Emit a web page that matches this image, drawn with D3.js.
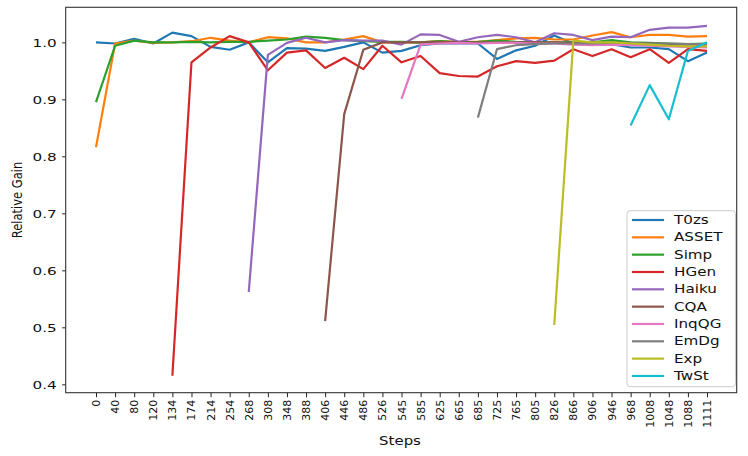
<!DOCTYPE html>
<html>
<head>
<meta charset="utf-8">
<script src="https://cdn.jsdelivr.net/npm/d3@7"></script>
<style>
  body { margin: 0; background: #fff; }
  text { font-family: "DejaVu Sans", sans-serif; fill: #111; }
</style>
</head>
<body>
<svg id="chart" width="748" height="456"></svg>
<script>
// step labels along the x axis (categorical)
const steps = [0, 40, 80, 120, 134, 174, 214, 254, 268, 308, 348, 388, 406, 446, 486, 526, 545,
  585, 625, 665, 685, 725, 765, 805, 826, 866, 906, 946, 968, 1008, 1048, 1088, 1111];

const seriesNames = ["T0zs", "ASSET", "Simp", "HGen", "Haiku", "CQA", "InqQG", "EmDg", "Exp", "TwSt"];
const seriesColors = ["#1f77b4", "#ff7f0e", "#2ca02c", "#d62728", "#9467bd", "#8c564b", "#e377c2", "#7f7f7f", "#bcbd22", "#17becf"];

const N = null;
const t0zs = [1.000, 0.998, 1.006, 0.998, 1.017, 1.011, 0.992, 0.987, 1.000, 0.965, 0.990, 0.989, 0.985, 0.992, 1.000, 0.982, 0.985,
  0.995, 0.998, 0.998, 0.998, 0.971, 0.986, 0.994, 1.012, 0.998, 0.997, 0.997, 0.991, 0.991, 0.988, 0.967, 0.982];
const asset = [0.816, 0.998, 1.003, 0.999, 1.000, 1.002, 1.008, 1.003, 1.000, 1.009, 1.007, 1.000, 1.000, 1.005, 1.011, 1.000, 1.000,
  1.000, 1.002, 1.001, 1.001, 1.004, 1.007, 1.008, 1.005, 1.005, 1.012, 1.018, 1.009, 1.013, 1.013, 1.010, 1.011];
const simp = [0.895, 0.994, 1.003, 1.000, 1.000, 1.001, 1.000, 1.001, 1.001, 1.003, 1.005, 1.010, 1.008, 1.004, 1.002, 1.001, 1.001,
  1.000, 1.002, 1.000, 1.001, 1.003, 1.001, 1.000, 1.000, 1.000, 1.000, 1.004, 1.000, 0.999, 0.998, 0.997, 0.998];
const hgen = [N, N, N, N, 0.415, 0.965, 0.991, 1.011, 1.000, 0.951, 0.982, 0.986, 0.955, 0.973, 0.953, 0.994, 0.965,
  0.976, 0.946, 0.941, 0.940, 0.958, 0.967, 0.964, 0.968, 0.988, 0.976, 0.988, 0.974, 0.988, 0.964, 0.988, 0.985];
const haiku = [N, N, N, N, N, N, N, N, 0.562, 0.978, 0.999, 1.008, 1.000, 1.004, 1.003, 1.003, 0.996,
  1.014, 1.013, 1.001, 1.009, 1.013, 1.009, 1.000, 1.016, 1.013, 1.004, 1.010, 1.009, 1.022, 1.026, 1.026, 1.029];
const cqa = [N, N, N, N, N, N, N, N, N, N, N, N, 0.511, 0.874, 0.987, 1.000, 1.000,
  1.000, 1.001, 1.000, 1.000, 1.000, 1.000, 1.000, 1.000, 0.999, 0.999, 0.999, 0.998, 0.998, 0.997, 0.996, 0.996];
const inqqg = [N, N, N, N, N, N, N, N, N, N, N, N, N, N, N, N, 0.901,
  0.996, 0.998, 0.999, 0.998, 0.999, 0.999, 0.998, 0.998, 0.996, 0.995, 0.996, 0.995, 0.994, 0.993, 0.992, 0.991];
const emdg = [N, N, N, N, N, N, N, N, N, N, N, N, N, N, N, N, N,
  N, N, N, 0.868, 0.988, 0.995, 0.997, 0.998, 0.998, 0.998, 0.999, 0.999, 0.998, 0.998, 0.997, 0.997];
const exp = [N, N, N, N, N, N, N, N, N, N, N, N, N, N, N, N, N,
  N, N, N, N, N, N, N, 0.504, 1.003, 1.000, 1.000, 0.998, 0.996, 0.994, 0.993, 0.993];
const twst = [N, N, N, N, N, N, N, N, N, N, N, N, N, N, N, N, N,
  N, N, N, N, N, N, N, N, N, N, N, 0.854, 0.925, 0.865, 0.985, 1.000];

const seriesValues = [t0zs, asset, simp, hgen, haiku, cqa, inqqg, emdg, exp, twst];
const yTicks = [0.4, 0.5, 0.6, 0.7, 0.8, 0.9, 1.0];

const svg = d3.select("#chart");
const plotLeft = 65.7, plotRight = 736.7, plotTop = 7.3, plotBottom = 392.7;

const x = d3.scalePoint()
  .domain(steps.map(String))
  .range([96, 707]);

const y = d3.scaleLinear()
  .domain([0.3853, 1.0615])
  .range([plotBottom, plotTop]);

// lines
const line = d3.line()
  .defined(d => d.v != null)
  .x(d => x(String(d.s)))
  .y(d => y(d.v));

svg.append("g")
  .selectAll("path")
  .data(seriesValues)
  .join("path")
  .attr("fill", "none")
  .attr("stroke", (d, i) => seriesColors[i])
  .attr("stroke-width", 2.2)
  .attr("stroke-linejoin", "round")
  .attr("d", vals => line(vals.map((v, j) => ({ s: steps[j], v: v }))));

// y axis
const yAxis = svg.append("g")
  .attr("transform", `translate(${plotLeft},0)`)
  .call(d3.axisLeft(y).tickValues(yTicks).tickFormat(d3.format(".1f")).tickSize(3.5).tickPadding(0));
yAxis.select(".domain").remove();
yAxis.selectAll(".tick line").attr("stroke", "#222").attr("stroke-width", 1);
yAxis.selectAll(".tick text")
  .attr("x", 0)
  .attr("dy", "0.36em")
  .attr("transform", "translate(-9,0) scale(1.45,1)")
  .style("font-size", "10.5px")
  .style("font-family", "DejaVu Sans");

// x axis
const xAxis = svg.append("g")
  .attr("transform", `translate(0,${plotBottom})`)
  .call(d3.axisBottom(x).tickSize(4.5));
xAxis.select(".domain").remove();
xAxis.selectAll(".tick line").attr("stroke", "#222").attr("stroke-width", 1);
xAxis.selectAll(".tick text")
  .attr("x", 0).attr("y", 0).attr("dy", null)
  .attr("text-anchor", "end")
  .attr("dominant-baseline", "central")
  .attr("transform", "translate(0,7) rotate(-90)")
  .style("font-size", "11px")
  .style("font-family", "DejaVu Sans");

// frame
svg.append("rect")
  .attr("x", plotLeft).attr("y", plotTop)
  .attr("width", plotRight - plotLeft).attr("height", plotBottom - plotTop)
  .attr("fill", "none")
  .attr("stroke", "#333")
  .attr("stroke-width", 1.1);

// axis titles
svg.append("text")
  .attr("transform", "translate(400,445) scale(1.3,1)")
  .attr("text-anchor", "middle")
  .style("font-size", "11.5px")
  .text("Steps");

svg.append("text")
  .attr("transform", "translate(22,200) scale(1.2,1) rotate(-90)")
  .attr("text-anchor", "middle")
  .style("font-size", "11.5px")
  .text("Relative Gain");

// legend
const legend = svg.append("g");
legend.append("rect")
  .attr("x", 627).attr("y", 210.7)
  .attr("width", 108.5).attr("height", 176)
  .attr("rx", 3)
  .attr("fill", "#fff").attr("fill-opacity", 0.85)
  .attr("stroke", "#ccc").attr("stroke-width", 1);

const item = legend.selectAll("g.item")
  .data(seriesNames)
  .join("g")
  .attr("class", "item")
  .attr("transform", (d, i) => `translate(0,${220 + i * 17.33})`);

item.append("line")
  .attr("x1", 632).attr("x2", 664)
  .attr("stroke", (d, i) => seriesColors[i])
  .attr("stroke-width", 2.2);

item.append("text")
  .attr("transform", "translate(674,0) scale(1.32,1)")
  .attr("dy", "0.36em")
  .style("font-size", "11.5px")
  .text(d => d);
</script>
</body>
</html>
